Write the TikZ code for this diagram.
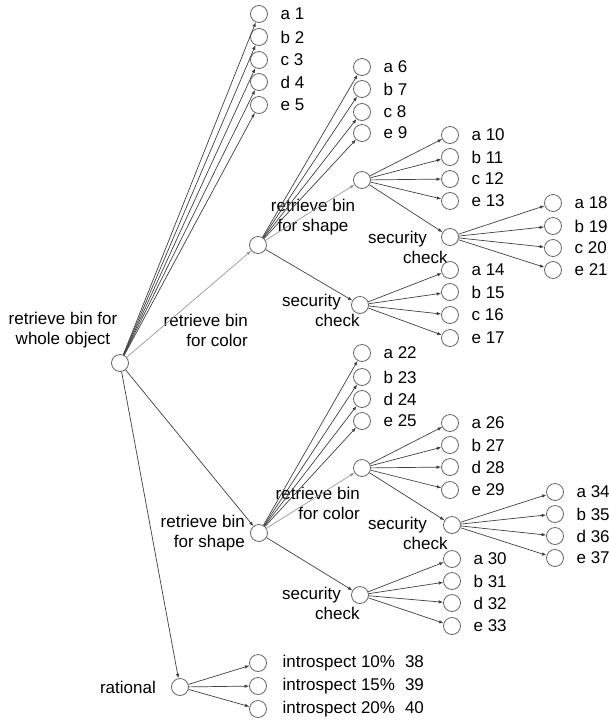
\documentclass[tikz,border=0pt]{standalone}
\usepackage{fontspec}
\setmainfont{Liberation Sans}
\usetikzlibrary{arrows.meta}
\begin{document}
\begin{tikzpicture}[x=1pt,y=-1pt,
  nd/.style={circle,draw=black!60,line width=0.8pt,minimum width=17pt,minimum height=16pt,inner sep=0pt},
  txt/.style={font=\fontsize{17}{20}\selectfont,inner sep=0pt},
  lbl/.style={txt,label distance=12.5pt},
  ilbl/.style={txt,label distance=15.5pt},
  edge/.style={-{Latex[length=4.5pt,width=3.5pt]},draw=black!75,line width=0.7pt},
  ledge/.style={edge,draw=black!40}]
\path[use as bounding box] (0,0) rectangle (609,721);
% internal nodes
\node[nd] (R) at (120,363) {};
\node[nd] (C) at (258,245) {};
\node[nd] (CS) at (362,180) {};
\node[nd] (CSS) at (450,237) {};
\node[nd] (CC) at (360,305) {};
\node[nd] (S) at (259,533) {};
\node[nd] (SC) at (362,468) {};
\node[nd] (SCS) at (452,525) {};
\node[nd] (SS) at (360,595) {};
\node[nd] (Rat) at (180,687) {};
% internal labels
\node[txt,align=center] (Rl) at (63,330) {retrieve bin for\\whole object};
\node[txt,align=right,anchor=east] (Cl) at (248,330) {retrieve bin\\for color};
\node[txt,align=center] (CSl) at (313,217) {retrieve bin\\for shape};
\node[txt,align=left,anchor=west] (CSSl) at (368,247) {security\\\hspace*{35pt}check};
\node[txt,align=left,anchor=west] (CCl) at (282,310) {security\\\hspace*{33pt}check};
\node[txt,align=right,anchor=east] (Sl) at (245,533) {retrieve bin\\for shape};
\node[txt,align=right,anchor=east] (SCl) at (360,503) {retrieve bin\\for color};
\node[txt,align=left,anchor=west] (SCSl) at (368,533) {security\\\hspace*{35pt}check};
\node[txt,align=left,anchor=west] (SSl) at (282,603) {security\\\hspace*{33pt}check};
\node[txt,anchor=east] (Ratl) at (156,687) {rational};
% leaves of root
\foreach \n/\t/\y in {a1/a 1/14,b2/b 2/37,c3/c 3/60,d4/d 4/82,e5/e 5/105}
  \node[nd,label={[lbl]right:\t}] (\n) at (259,\y) {};
% color branch
\foreach \n/\t/\y in {a6/a 6/67,b7/b 7/89,c8/c 8/112,e9/e 9/133}
  \node[nd,label={[lbl]right:\t}] (\n) at (362,\y) {};
\foreach \n/\t/\y in {a10/a 10/135,b11/b 11/157,c12/c 12/179,e13/e 13/201}
  \node[nd,label={[lbl]right:\t}] (\n) at (450,\y) {};
\foreach \n/\t/\y in {a18/a 18/203,b19/b 19/226,c20/c 20/248,e21/e 21/270}
  \node[nd,label={[lbl]right:\t}] (\n) at (553,\y) {};
\foreach \n/\t/\y in {a14/a 14/270,b15/b 15/292,c16/c 16/315,e17/e 17/338}
  \node[nd,label={[lbl]right:\t}] (\n) at (450,\y) {};
% shape branch
\foreach \n/\t/\y in {a22/a 22/353,b23/b 23/377,d24/d 24/399,e25/e 25/421}
  \node[nd,label={[lbl]right:\t}] (\n) at (362,\y) {};
\foreach \n/\t/\y in {a26/a 26/423,b27/b 27/445,d28/d 28/467,e29/e 29/490}
  \node[nd,label={[lbl]right:\t}] (\n) at (450,\y) {};
\foreach \n/\t/\y in {a34/a 34/492,b35/b 35/514,d36/d 36/536,e37/e 37/558}
  \node[nd,label={[lbl]right:\t}] (\n) at (555,\y) {};
\foreach \n/\t/\y in {a30/a 30/559,b31/b 31/581,d32/d 32/603,e33/e 33/626}
  \node[nd,label={[lbl]right:\t}] (\n) at (452,\y) {};
% rational
\foreach \n/\t/\y in {i38/10\%\hspace{10pt}38/663,i39/15\%\hspace{10pt}39/686,i40/20\%\hspace{10pt}40/709}
  \node[nd,label={[ilbl]right:introspect \t}] (\n) at (258,\y) {};
% edges
\foreach \c in {a1,b2,c3,d4,e5} \draw[edge] (R) -- (\c);
\draw[ledge] (R) -- (C);
\draw[edge] (R) -- (S);
\draw[edge] (R) -- (Rat);
\foreach \c in {a6,b7,c8,e9} \draw[edge] (C) -- (\c);
\draw[ledge] (C) -- (CS);
\draw[edge] (C) -- (CC);
\foreach \c in {a10,b11,c12,e13,CSS} \draw[edge] (CS) -- (\c);
\foreach \c in {a18,b19,c20,e21} \draw[edge] (CSS) -- (\c);
\foreach \c in {a14,b15,c16,e17} \draw[edge] (CC) -- (\c);
\foreach \c in {a22,b23,d24,e25} \draw[edge] (S) -- (\c);
\draw[ledge] (S) -- (SC);
\draw[edge] (S) -- (SS);
\foreach \c in {a26,b27,d28,e29,SCS} \draw[edge] (SC) -- (\c);
\foreach \c in {a34,b35,d36,e37} \draw[edge] (SCS) -- (\c);
\foreach \c in {a30,b31,d32,e33} \draw[edge] (SS) -- (\c);
\foreach \c in {i38,i39,i40} \draw[edge] (Rat) -- (\c);
\end{tikzpicture}
\end{document}
